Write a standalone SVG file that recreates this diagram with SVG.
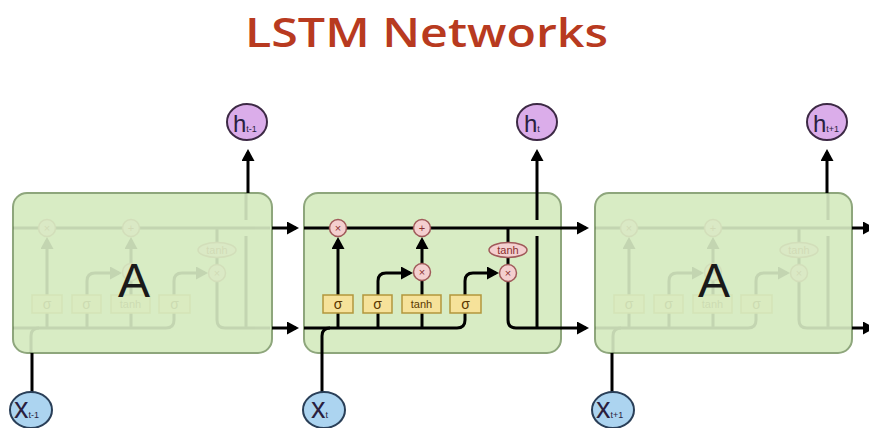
<svg xmlns="http://www.w3.org/2000/svg" xmlns:xlink="http://www.w3.org/1999/xlink" width="869" height="428" viewBox="0 0 869 428">
<style>
.cell{fill:#d8ecc4;stroke:#8ea67c;stroke-width:2}
.ln{fill:none;stroke:#000;stroke-width:3}
.op{fill:#f4cfcf;stroke:#a05a5a;stroke-width:1.5}
.opt{font-family:"Liberation Sans",Arial,sans-serif;font-size:11px;fill:#8a3030;text-anchor:middle}
.gate{fill:#f6e29a;stroke:#b2963c;stroke-width:1.5}
.gt{font-family:"Liberation Sans",Arial,sans-serif;fill:#5a3800;text-anchor:middle}
.big{font-family:"Liberation Sans",Arial,sans-serif;font-size:48px;fill:#1a1a1a;text-anchor:middle}
.hc{fill:#dbadea;stroke:#3d2a45;stroke-width:2}
.xc{fill:#acd4f0;stroke:#2a3f58;stroke-width:2}
.lab{font-family:"Liberation Sans",Arial,sans-serif;fill:#2a1f40}
.title{font-family:"Open Sans","Liberation Sans",sans-serif;font-weight:600;font-size:40px;fill:#b83a20}
</style>
<defs>
<marker id="ah" markerUnits="userSpaceOnUse" markerWidth="14" markerHeight="14" refX="9" refY="6.5" orient="auto">
<path d="M0,0 L12,6.5 L0,13 z" fill="#000"/>
</marker>
<g id="core">
<path class="ln" d="M304,228 H561"/>
<path class="ln" d="M304,328 H457 Q465,328 465,320 V313"/>
<path class="ln" d="M322,353 V336 Q322,328 330,328"/>
<path class="ln" d="M338,328 V313"/>
<path class="ln" d="M338,295 V240" marker-end="url(#ah)"/>
<path class="ln" d="M378,328 V313"/>
<path class="ln" d="M378,295 V281 Q378,273 386,273 H410" marker-end="url(#ah)"/>
<path class="ln" d="M422,328 V313"/>
<path class="ln" d="M422,295 V280"/>
<path class="ln" d="M422,264 V240" marker-end="url(#ah)"/>
<path class="ln" d="M465,295 V281 Q465,273 473,273 H496" marker-end="url(#ah)"/>
<path class="ln" d="M508,228 V243"/>
<path class="ln" d="M508,257 V265"/>
<path class="ln" d="M508,281 V320 Q508,328 516,328 H561"/>
<path class="ln" d="M537,328 V236"/>
<path class="ln" d="M537,220 V193"/>
<circle class="op" cx="338" cy="228" r="8.5"/>
<text class="opt" x="338" y="232">×</text>
<circle class="op" cx="422" cy="228" r="8.5"/>
<text class="opt" x="422" y="232">+</text>
<circle class="op" cx="422" cy="272" r="8.5"/>
<text class="opt" x="422" y="276">×</text>
<circle class="op" cx="508" cy="273" r="8.5"/>
<text class="opt" x="508" y="277">×</text>
<ellipse class="op" cx="508" cy="250" rx="19" ry="7.5"/>
<text class="opt" x="508" y="254">tanh</text>
<rect class="gate" x="323" y="295" width="30" height="18"/>
<text class="gt" x="338" y="309" font-size="14">σ</text>
<rect class="gate" x="363" y="295" width="29" height="18"/>
<text class="gt" x="377.5" y="309" font-size="14">σ</text>
<rect class="gate" x="402" y="295" width="39" height="18"/>
<text class="gt" x="421.5" y="308" font-size="11">tanh</text>
<rect class="gate" x="450" y="295" width="31" height="18"/>
<text class="gt" x="465.5" y="309" font-size="14">σ</text>
</g>
</defs>
<rect width="869" height="428" fill="#fff"/>
<g id="title">
<text class="title" x="245" y="47" textLength="363" lengthAdjust="spacingAndGlyphs">LSTM Networks</text>
</g>
<g id="cell-prev">
<rect class="cell" x="13" y="193" width="259" height="160" rx="14"/>
<use href="#core" transform="translate(-291,0)" opacity="0.09"/>
<text class="big" x="134" y="297">A</text>
</g>
<g id="cell-t">
<rect class="cell" x="304" y="193" width="257" height="160" rx="14"/>
<use href="#core"/>
</g>
<g id="cell-next">
<rect class="cell" x="595" y="193" width="257" height="160" rx="14"/>
<use href="#core" transform="translate(291,0)" opacity="0.09"/>
<text class="big" x="714" y="297">A</text>
</g>
<g id="connectors">
<path class="ln" d="M272,228 H296" marker-end="url(#ah)"/>
<path class="ln" d="M272,328 H296" marker-end="url(#ah)"/>
<path class="ln" d="M561,228 H586" marker-end="url(#ah)"/>
<path class="ln" d="M561,328 H586" marker-end="url(#ah)"/>
<path class="ln" d="M852,228 H872" marker-end="url(#ah)"/>
<path class="ln" d="M852,328 H872" marker-end="url(#ah)"/>
<path class="ln" d="M248,193 V152" marker-end="url(#ah)"/>
<path class="ln" d="M537,193 V152" marker-end="url(#ah)"/>
<path class="ln" d="M827,193 V152" marker-end="url(#ah)"/>
<path class="ln" d="M32,392 V353"/>
<path class="ln" d="M322,392 V353"/>
<path class="ln" d="M612,392 V353"/>
</g>
<g id="h-prev">
<ellipse class="hc" cx="247" cy="122" rx="20" ry="18"/>
<text class="lab" x="233" y="132"><tspan font-size="24">h</tspan><tspan font-size="9">t-1</tspan></text>
</g>
<g id="h-t">
<ellipse class="hc" cx="537" cy="122" rx="20" ry="18"/>
<text class="lab" x="524" y="132"><tspan font-size="24">h</tspan><tspan font-size="9">t</tspan></text>
</g>
<g id="h-next">
<ellipse class="hc" cx="827" cy="122" rx="20" ry="18"/>
<text class="lab" x="813" y="132"><tspan font-size="24">h</tspan><tspan font-size="9">t+1</tspan></text>
</g>
<g id="x-prev">
<ellipse class="xc" cx="31" cy="410" rx="21" ry="18"/>
<text class="lab" x="14" y="418"><tspan font-size="29">x</tspan><tspan font-size="9">t-1</tspan></text>
</g>
<g id="x-t">
<ellipse class="xc" cx="324" cy="410" rx="21" ry="18"/>
<text class="lab" x="311" y="418"><tspan font-size="29">x</tspan><tspan font-size="9">t</tspan></text>
</g>
<g id="x-next">
<ellipse class="xc" cx="613" cy="410" rx="21" ry="18"/>
<text class="lab" x="596" y="418"><tspan font-size="29">x</tspan><tspan font-size="9">t+1</tspan></text>
</g>
</svg>
